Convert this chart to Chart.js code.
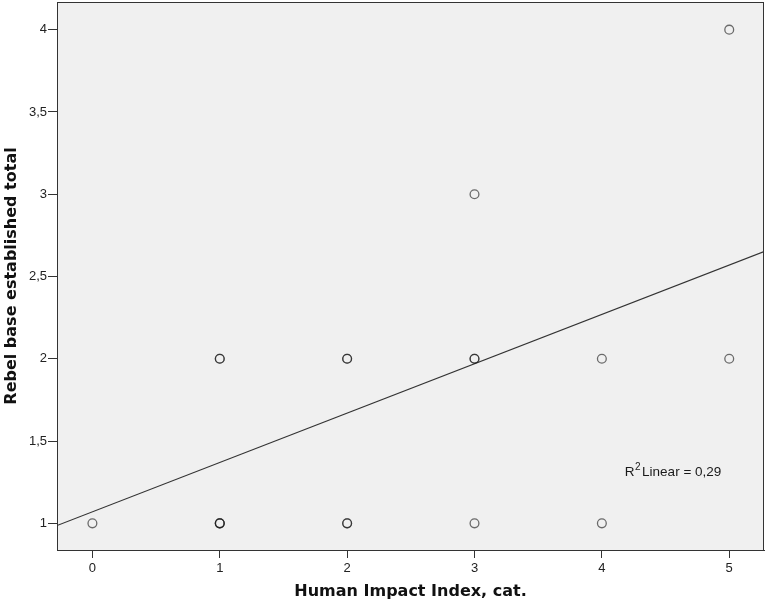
<!DOCTYPE html>
<html>
<head>
<meta charset="utf-8">
<script src="https://cdn.jsdelivr.net/npm/chart.js@4.4.0/dist/chart.umd.min.js"></script>
<style>
  html, body { margin: 0; padding: 0; background: #ffffff; }
  canvas { display: block; }
</style>
</head>
<body>
<canvas id="chart" width="765" height="608"></canvas>
<script>
// Observed cases: Human Impact Index category vs. rebel bases established
const impactIndex = [0, 1, 1, 2, 2, 3, 3, 3, 4, 4, 5, 5];
const rebelBases  = [1, 1, 2, 1, 2, 1, 2, 3, 1, 2, 2, 4];
// number of cases sharing each position (overlapping markers)
const caseCounts  = [1, 3, 2, 2, 2, 1, 2, 1, 1, 1, 1, 1];

// Axis ticks
const xTickValues = [0, 1, 2, 3, 4, 5];
const xTickLabels = ['0', '1', '2', '3', '4', '5'];
const yTickValues = [1, 1.5, 2, 2.5, 3, 3.5, 4];
const yTickLabels = ['1', '1,5', '2', '2,5', '3', '3,5', '4'];

// Linear fit line
const fitIntercept = 1.07;
const fitSlope = 0.30;
const fitRSquared = '0,29';

// Axis extents
const X_MIN = -0.278, X_MAX = 5.273;
const Y_MIN = 0.838, Y_MAX = 4.168;

const scatterPoints = [];
impactIndex.forEach((x, i) => {
  for (let k = 0; k < caseCounts[i]; k++) scatterPoints.push({ x: x, y: rebelBases[i] });
});

const fitLine = [X_MIN, X_MAX].map(x => ({ x: x, y: fitIntercept + fitSlope * x }));

const tickFont = { family: "'Liberation Sans', Arial, sans-serif", size: 13 };
const titleFont = { family: "'DejaVu Sans', Verdana, sans-serif", size: 16, weight: 'bold' };

const plotFrame = {
  id: 'plotFrame',
  beforeDraw(chart) {
    const { ctx, chartArea: a } = chart;
    ctx.save();
    ctx.fillStyle = '#f0f0f0';
    ctx.fillRect(a.left, a.top, a.right - a.left, a.bottom - a.top);
    ctx.restore();
  },
  afterDatasetsDraw(chart) {
    const { ctx, chartArea: a } = chart;
    ctx.save();
    ctx.strokeStyle = '#333333';
    ctx.lineWidth = 1;
    ctx.strokeRect(Math.round(a.left) + 0.5, Math.round(a.top) + 0.5,
                   Math.round(a.right - a.left) - 1, Math.round(a.bottom - a.top));
    ctx.restore();
  }
};

// R-squared note drawn inside the plot, anchored in data units
const rSquaredNote = {
  id: 'rSquaredNote',
  afterDatasetsDraw(chart, args, opts) {
    const { ctx, scales } = chart;
    const px = scales.x.getPixelForValue(opts.at.x);
    const py = scales.y.getPixelForValue(opts.at.y);
    ctx.save();
    ctx.fillStyle = '#1a1a1a';
    ctx.textBaseline = 'alphabetic';
    ctx.textAlign = 'left';
    ctx.font = "13.5px 'Liberation Sans', Arial, sans-serif";
    ctx.fillText('R', px, py);
    let w = ctx.measureText('R').width;
    ctx.font = "10px 'Liberation Sans', Arial, sans-serif";
    ctx.fillText('2', px + w + 0.5, py - 6);
    w += ctx.measureText('2').width + 2;
    ctx.font = "13.5px 'Liberation Sans', Arial, sans-serif";
    ctx.fillText('Linear = ' + fitRSquared, px + w, py);
    ctx.restore();
  }
};

new Chart(document.getElementById('chart'), {
  type: 'scatter',
  data: {
    datasets: [
      {
        type: 'scatter',
        data: scatterPoints,
        pointRadius: 4.4,
        pointHoverRadius: 4.4,
        pointBorderWidth: 1.3,
        pointBorderColor: 'rgba(25,25,25,0.62)',
        pointBackgroundColor: 'rgba(0,0,0,0)',
        order: 1
      },
      {
        type: 'line',
        data: fitLine,
        borderColor: '#333333',
        borderWidth: 1.2,
        pointRadius: 0,
        fill: false,
        tension: 0,
        order: 2
      }
    ]
  },
  options: {
    responsive: false,
    animation: false,
    events: [],
    layout: { autoPadding: false, padding: { top: 2, right: 1, left: 0, bottom: 0 } },
    plugins: {
      legend: { display: false },
      tooltip: { enabled: false },
      rSquaredNote: { at: { x: 4.18, y: 1.287 } }
    },
    scales: {
      x: {
        type: 'linear',
        min: X_MIN,
        max: X_MAX,
        afterBuildTicks: s => { s.ticks = xTickValues.map(v => ({ value: v })); },
        afterFit: s => { s.height = 58; s.paddingLeft = 0; s.paddingRight = 0; },
        ticks: {
          callback: (v, i) => xTickLabels[i],
          font: tickFont,
          color: '#222222',
          padding: 3,
          maxRotation: 0,
          autoSkip: false
        },
        grid: { drawOnChartArea: false, drawTicks: true, tickLength: 8, color: '#333333', lineWidth: 1 },
        border: { display: true, color: '#333333', width: 1 },
        title: {
          display: true,
          text: 'Human Impact Index, cat.',
          font: titleFont,
          color: '#111111',
          padding: { top: 0, bottom: 7 }
        }
      },
      y: {
        type: 'linear',
        min: Y_MIN,
        max: Y_MAX,
        afterBuildTicks: s => { s.ticks = yTickValues.map(v => ({ value: v })); },
        afterFit: s => { s.width = 57; s.paddingTop = 0; s.paddingBottom = 0; },
        ticks: {
          callback: (v, i) => yTickLabels[i],
          font: tickFont,
          color: '#222222',
          padding: 1,
          autoSkip: false
        },
        grid: { drawOnChartArea: false, drawTicks: true, tickLength: 9, color: '#333333', lineWidth: 1 },
        border: { display: true, color: '#333333', width: 1 },
        title: {
          display: true,
          text: 'Rebel base established total',
          font: titleFont,
          color: '#111111',
          padding: { top: 2.5, bottom: 0 }
        }
      }
    }
  },
  plugins: [plotFrame, rSquaredNote]
});
</script>
</body>
</html>
